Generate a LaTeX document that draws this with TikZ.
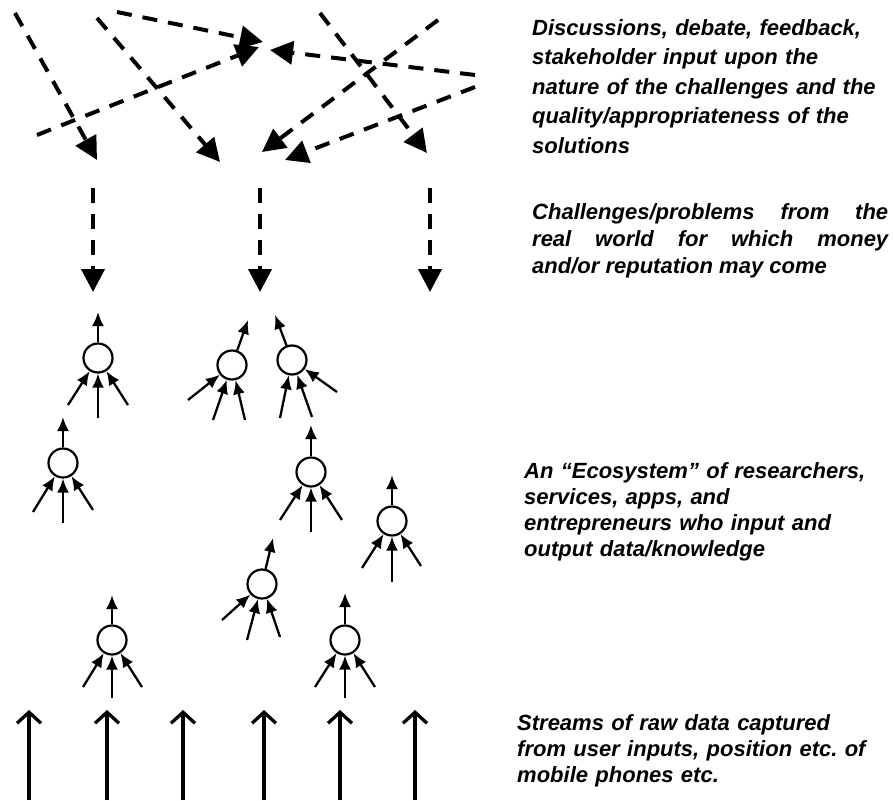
\documentclass[tikz,border=0pt]{standalone}
\usepackage{fontspec}
\setmainfont{Liberation Sans}
\usepackage{tikz}
\usetikzlibrary{calc,arrows.meta}

\tikzset{
  agent/.style={circle,draw,line width=2.2pt,fill=white,minimum size=29pt,inner sep=0pt},
  feed/.style={line width=2.3pt,-{Latex[length=14pt,width=12pt]}},
  talk/.style={line width=4pt,dash pattern=on 15pt off 11pt,-{Triangle[length=23pt,width=23pt]}},
  stream/.style={line width=3.3pt,-{Straight Barb[length=11pt,width=24pt]}},
  say/.style={anchor=north west,inner sep=0pt,text width=380pt,align=left,font=\bfseries\itshape\fontsize{22}{26}\selectfont}
}

\begin{document}
\begin{tikzpicture}[x=1pt,y=-1pt]
\useasboundingbox (0,0) rectangle (893,800);

\foreach \n/\x/\y/\ox/\oy/\ax/\ay/\bx/\by/\cx/\cy in {
  a/98/358/0/-46/-30/47/0/60/30/47,
  b/232/365/16/-45/-44/35/-19/55/13/55,
  c/292/360/-17/-45/-12/58/20/57/45/32,
  d/63/463/0/-46/-30/49/0/60/30/47,
  e/311/472/0/-47/-31/48/0/60/31/48,
  f/392/521/0/-46/-30/47/0/61/29/45,
  g/262/584/11/-46/-40/36/-15/56/18/53,
  h/112/640/0/-45/-29/47/0/58/30/47,
  i/345/640/0/-47/-30/47/0/58/30/47}
{
  \node[agent] (\n) at (\x,\y) {};
  \coordinate (\n-out) at ({\x+(\ox)},{\y+(\oy)});
  \coordinate (\n-in1) at ({\x+(\ax)},{\y+(\ay)});
  \coordinate (\n-in2) at ({\x+(\bx)},{\y+(\by)});
  \coordinate (\n-in3) at ({\x+(\cx)},{\y+(\cy)});
  \draw[feed] (\n) -- (\n-out);
  \draw[feed] (\n-in1) -- (\n);
  \draw[feed] (\n-in2) -- (\n);
  \draw[feed] (\n-in3) -- (\n);
}

\foreach \k/\sx/\sy/\tx/\ty in {
  1/15/13/97/160, 2/97/18/220/162, 3/117/12/263/42, 4/37/135/259/47,
  5/475/75/270/50, 6/320/13/427/153, 7/438/20/262/152, 8/475/87/285/160}
{
  \coordinate (s\k) at (\sx,\sy);
  \coordinate (t\k) at (\tx,\ty);
  \draw[talk] (s\k) -- (t\k);
}

\foreach \k/\x in {1/93,2/260,3/430}
{
  \coordinate (p\k) at (\x,188);
  \coordinate (q\k) at (\x,292);
  \draw[talk] (p\k) -- (q\k);
}

\foreach \k/\x in {1/29,2/107,3/183,4/264,5/340,6/415}
{
  \coordinate (r\k) at (\x,800);
  \coordinate (u\k) at (\x,710);
  \draw[stream] (r\k) -- (u\k);
}

\node[say,font=\bfseries\itshape\fontsize{22}{29.5}\selectfont] (debate) at (532,19)
  {Discussions, debate, feedback,\\ stakeholder input upon the\\ nature of the challenges and the\\ quality/appropriateness of the\\ solutions};
\node[say,text width=356pt,align=justify,font=\bfseries\itshape\fontsize{22}{27}\selectfont] (problems) at (532,203)
  {Challenges/problems from the\linebreak real world for which money\linebreak and/or reputation may come};
\node[say] (ecosystem) at (524,462)
  {An ``Ecosystem'' of researchers,\\ services, apps, and\\ entrepreneurs who input and\\ output data/knowledge};
\node[say] (streams) at (517,714)
  {Streams of raw data captured\\ from user inputs, position etc.\ of\\ mobile phones etc.};
\end{tikzpicture}
\end{document}
